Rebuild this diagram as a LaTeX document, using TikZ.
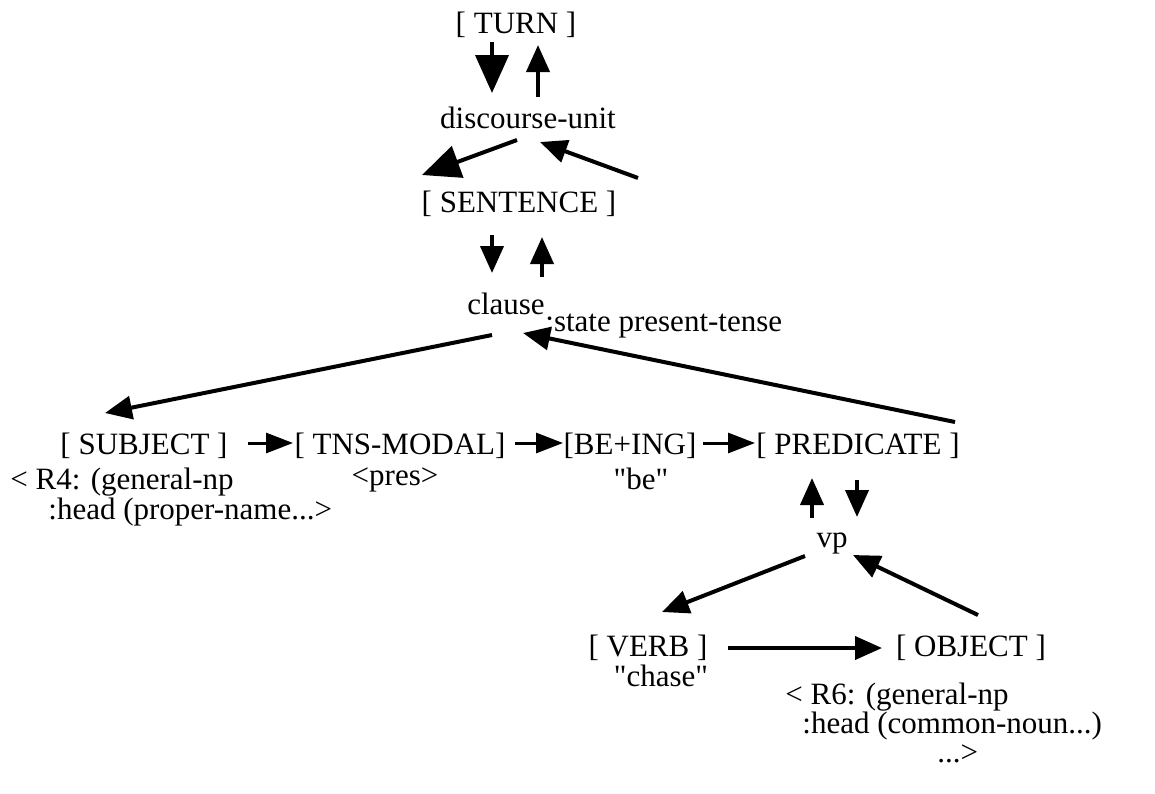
\documentclass[tikz,border=0pt]{standalone}
\usepackage{fontspec}
\setmainfont{Liberation Serif}
\usetikzlibrary{arrows.meta}

\tikzset{
  word/.style={inner sep=0pt, anchor=base, font=\fontsize{15.5}{19}\selectfont},
  note/.style={word, anchor=base west},
  link/.style={-{Triangle[length=13.5pt,width=11.5pt]}, line width=2pt},
  biglink/.style={link, -{Triangle[length=19pt,width=16.5pt]}},
  steplink/.style={link, line width=1.5pt, -{Triangle[length=13.5pt,width=10pt]}}
}

\begin{document}
\begin{tikzpicture}[x=0.5pt, y=-0.5pt]
\useasboundingbox (0,0) rectangle (1155,793);

% the upper levels
\node[word] (turn) at (516,33) {[ TURN ]};
\node[word] (du) at (528,128) {discourse-unit};
\node[word] (sent) at (519,212) {[ SENTENCE ]};
\node[word] (clause) at (506,314) {clause};
\node[note] (state) at (545,331) {:state present-tense};

% the constituents of the clause
\node[word] (subj) at (144,454) {[ SUBJECT ]};
\node[word] (tns) at (400,454) {[ TNS-MODAL]};
\node[word] (bei) at (630,454) {[BE+ING]};
\node[word] (pred) at (858,454) {[ PREDICATE ]};
\node[note] (r4) at (10,489) {< R4: (general-np};
\node[note] (r4b) at (48,519) {:head (proper-name...>};
\node[word] (pres) at (395,485) {<pres>};
\node[word] (be) at (641,489) {\textquotedbl be\textquotedbl};

% the verb phrase
\node[word] (vp) at (832,547) {vp};
\node[word] (verb) at (648,656) {[ VERB ]};
\node[word] (obj) at (971,656) {[ OBJECT ]};
\node[word] (chase) at (661,686) {\textquotedbl chase\textquotedbl};
\node[note] (r6) at (785,704) {< R6: (general-np};
\node[note] (r6b) at (802,733) {:head (common-noun...)};
\node[note] (r6c) at (937,762) {...>};

% down and up between the levels
\draw[biglink] ([shift={(-24,9)}]turn.base) -- ([shift={(-36,-35)}]du.base);
\draw[link] ([shift={(10,-31)}]du.base) -- ([shift={(22,12)}]turn.base);
\draw[biglink] ([shift={(-11,12)}]du.base) -- ([shift={(-97,-37)}]sent.base);
\draw[link] ([shift={(119,-34)}]sent.base) -- ([shift={(12,14)}]du.base);
\draw[link] ([shift={(-27,23)}]sent.base) -- ([shift={(-14,-41)}]clause.base);
\draw[link] ([shift={(36,-37)}]clause.base) -- ([shift={(23,25)}]sent.base);
\draw[link] ([shift={(-14,21)}]clause.base) -- ([shift={(-39,-41)}]subj.base);
\draw[link] ([shift={(97,-32)}]pred.base) -- ([shift={(17,19)}]clause.base);

% from one constituent to the next
\draw[steplink] ([shift={(104,-11)}]subj.base) -- ([shift={(-107,-11)}]tns.base);
\draw[steplink] ([shift={(115,-11)}]tns.base) -- ([shift={(-67,-11)}]bei.base);
\draw[steplink] ([shift={(73,-11)}]bei.base) -- ([shift={(-103,-11)}]pred.base);

% the verb phrase
\draw[link] ([shift={(-20,-29)}]vp.base) -- ([shift={(-46,24)}]pred.base);
\draw[link] ([shift={(-1,26)}]pred.base) -- ([shift={(25,-30)}]vp.base);
\draw[link] ([shift={(-27,9)}]vp.base) -- ([shift={(14,-44)}]verb.base);
\draw[link] ([shift={(7,-41)}]obj.base) -- ([shift={(21,8)}]vp.base);
\draw[link] ([shift={(80,-8)}]verb.base) -- ([shift={(-89,-8)}]obj.base);
\end{tikzpicture}
\end{document}
